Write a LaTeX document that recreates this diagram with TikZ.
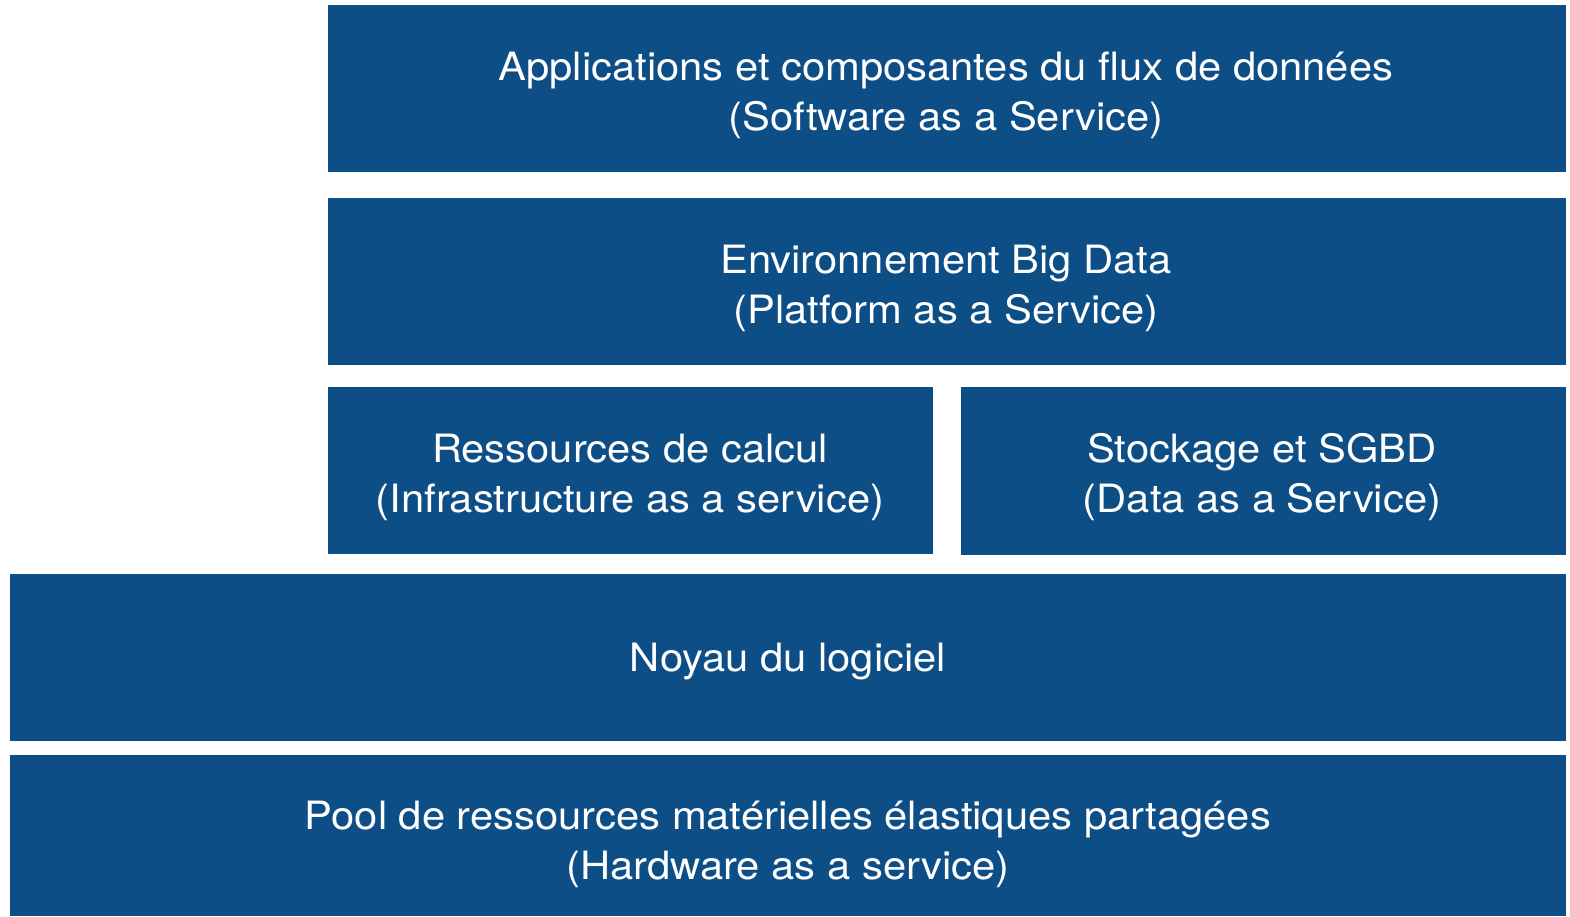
\documentclass[tikz,border=0pt]{standalone}
\usepackage{fontspec}
\setmainfont{TeX Gyre Heros}[FakeStretch=1.07]
\definecolor{layerblue}{RGB}{14,78,135}
\begin{document}
\begin{tikzpicture}[x=1pt,y=-1pt,
  layer/.style={fill=layerblue,draw=none},
  label/.style={text=white,align=center,font=\fontsize{39}{50}\selectfont,inner sep=0pt}]
\useasboundingbox (0,0) rectangle (1570,916);
% stacked layers
\fill[layer] (328,5) rectangle (1566,172);
\fill[layer] (328,198) rectangle (1566,365);
\fill[layer] (328,387) rectangle (933,554);
\fill[layer] (961,387) rectangle (1566,555);
\fill[layer] (10,574) rectangle (1566,741);
\fill[layer] (10,755) rectangle (1566,916);
% labels
\node[label] (saas) at (946,95) {Applications et composantes du flux de données\\(Software as a Service)};
\node[label] (paas) at (946,288) {Environnement Big Data\\(Platform as a Service)};
\node[label] (iaas) at (630,477) {Ressources de calcul\\(Infrastructure as a service)};
\node[label] (daas) at (1262,477) {Stockage et SGBD\\(Data as a Service)};
\node[label] (noyau) at (788,662) {Noyau du logiciel};
\node[label] (haas) at (788,844) {Pool de ressources matérielles élastiques partagées\\(Hardware as a service)};
\end{tikzpicture}
\end{document}
